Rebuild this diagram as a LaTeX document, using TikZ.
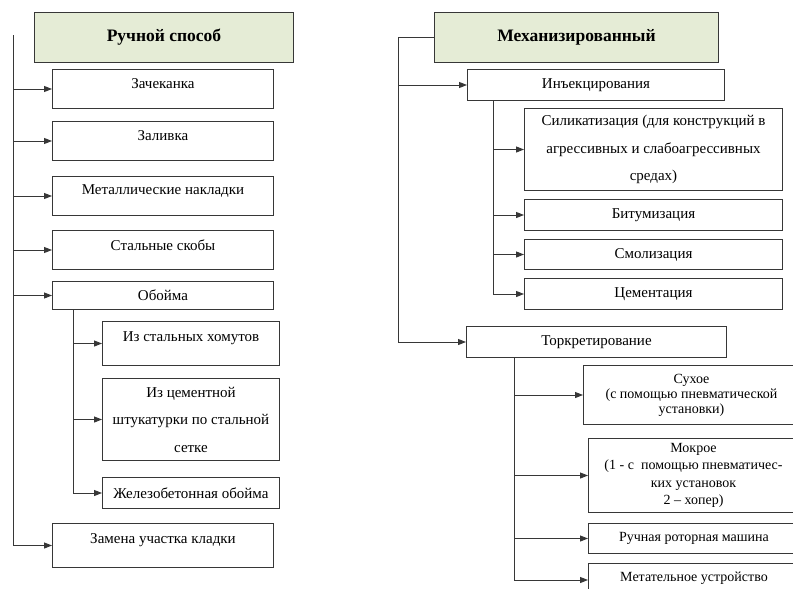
\documentclass[tikz,border=0pt]{standalone}
\usepackage{fontspec}
\setmainfont{Liberation Serif}
\usetikzlibrary{arrows.meta}
\definecolor{lc}{RGB}{55,55,55}
\definecolor{hdr}{RGB}{229,236,214}
\newcommand\liftx[1]{\raisebox{5pt}[\height][\depth]{#1}}
\tikzset{
  box/.style={draw=lc, line width=1pt, fill=white, anchor=north west, inner sep=0pt, align=center,
    font=\fontsize{15}{18}\selectfont},
  hbox/.style={box, fill=hdr, font=\fontsize{17.5}{20}\selectfont\bfseries},
  wide/.style={font=\fontsize{15}{27.5}\selectfont},
  small/.style={font=\fontsize{14}{15}\selectfont},
  line/.style={draw=lc, line width=1pt},
  arr/.style={line, -{Triangle[length=8pt,width=6pt]}}
}
\begin{document}
\begin{tikzpicture}[x=1pt,y=-1pt]
\clip (0,0) rectangle (793,589);
\fill[white] (0,0) rectangle (793,589);
% ---------- left column ----------
\node[hbox, minimum width=259, minimum height=50] (hand) at (34,12) {Ручной способ};
\node[box, minimum width=221, minimum height=39] (zach) at (52,69) {\liftx{Зачеканка}};
\node[box, minimum width=221, minimum height=39] (zal) at (52,121) {\liftx{Заливка}};
\node[box, minimum width=221, minimum height=39] (met) at (52,176) {\liftx{Металлические накладки}};
\node[box, minimum width=221, minimum height=39] (sko) at (52,230) {\liftx{Стальные скобы}};
\node[box, minimum width=221, minimum height=28] (obo) at (52,281) {Обойма};
\node[box, minimum width=177, minimum height=44] (hom) at (102,321) {\liftx{Из стальных хомутов}};
\node[box, wide, minimum width=177, minimum height=82] (cem) at (102,378) {Из цементной\\штукатурки по стальной\\сетке};
\node[box, minimum width=177, minimum height=31] (zhb) at (102,477) {Железобетонная обойма};
\node[box, minimum width=221, minimum height=44] (zam) at (52,523) {\liftx{Замена участка кладки}};

\coordinate (lt) at (13,35);
\draw[line] (lt) -- (lt |- zam.west);
\foreach \n in {zach,zal,met,sko,obo,zam}
  \draw[arr] (lt |- \n.west) -- (\n.west);
\coordinate (ot) at (73,0);
\draw[line] (ot |- obo.south) -- (ot |- zhb.west);
\foreach \n in {hom,cem,zhb}
  \draw[arr] (ot |- \n.west) -- (\n.west);

% ---------- right column ----------
\node[hbox, minimum width=284, minimum height=50] (mech) at (434,12) {Механизированный};
\node[box, minimum width=257, minimum height=31] (inj) at (467,69) {Инъекцирования};
\node[box, wide, minimum width=258, minimum height=82] (sil) at (524,108) {Силикатизация (для конструкций в\\агрессивных и слабоагрессивных\\средах)};
\node[box, minimum width=258, minimum height=31] (bit) at (524,199) {Битумизация};
\node[box, minimum width=258, minimum height=30] (smo) at (524,239) {Смолизация};
\node[box, minimum width=258, minimum height=31] (cmt) at (524,278) {Цементация};
\node[box, minimum width=260, minimum height=31] (tor) at (466,326) {Торкретирование};
\node[box, small, minimum width=216, minimum height=59] (suh) at (583,365) {Сухое\\(с помощью пневматической\\установки)};
\node[box, font=\fontsize{14}{17.5}\selectfont, minimum width=210, minimum height=74] (mok) at (588,438) {Мокрое\\(1 - с\ \ помощью пневматичес-\\ких установок\\2 – хопер)};
\node[box, small, minimum width=211, minimum height=30] (rot) at (588,523) {Ручная роторная машина};
\node[box, small, minimum width=211, minimum height=40] (mta) at (588,563) {\liftx{Метательное устройство}};

\coordinate (rt) at (398,0);
\draw[line] (mech.west) -- (rt |- mech.west) -- (rt |- tor.west);
\draw[arr] (rt |- inj.west) -- (inj.west);
\draw[arr] (rt |- tor.west) -- (tor.west);
\coordinate (it) at (493,0);
\draw[line] (it |- inj.south) -- (it |- cmt.west);
\foreach \n in {sil,bit,smo,cmt}
  \draw[arr] (it |- \n.west) -- (\n.west);
\coordinate (tt) at (514,0);
\coordinate (ta) at (514,580);
\draw[line] (tt |- tor.south) -- (ta);
\foreach \n in {suh,mok,rot}
  \draw[arr] (tt |- \n.west) -- (\n.west);
\draw[arr] (ta) -- (ta -| mta.west);
\end{tikzpicture}
\end{document}
